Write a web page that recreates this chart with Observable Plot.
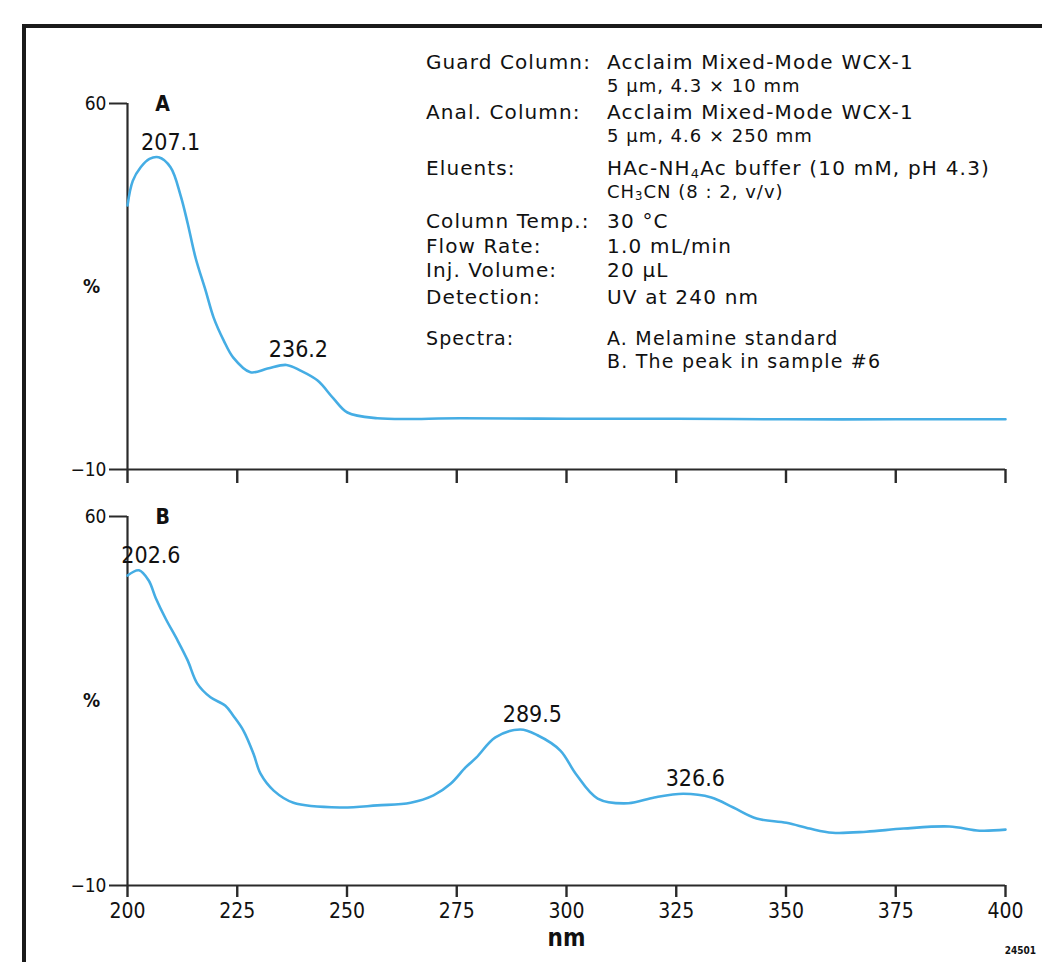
<!DOCTYPE html>
<html>
<head>
<meta charset="utf-8">
<script src="https://cdn.jsdelivr.net/npm/d3@7"></script>
<script src="https://cdn.jsdelivr.net/npm/@observablehq/plot@0.6"></script>
<style>
  html, body { margin: 0; padding: 0; background: #fff; }
  #page { position: relative; width: 1042px; height: 962px; overflow: hidden; background: #fff;
          font-family: "DejaVu Sans", "Liberation Sans", sans-serif; color: #111; }
  #frame { position: absolute; left: 22px; top: 24px; width: 1100px; height: 1000px;
           border-left: 4px solid #1a1a1a; border-top: 4px solid #1a1a1a; }
  .plot { position: absolute; left: 0; }
  .info { position: absolute; white-space: nowrap; line-height: 24px; height: 24px; }
  .info sub { font-size: 65%; line-height: 0; vertical-align: -0.2em; }
  .lab { left: 426px; font-size: 20px; letter-spacing: 1.1px; }
  .val { left: 607px; font-size: 20px; letter-spacing: 1.2px; }
  .sub { left: 607px; font-size: 18px; letter-spacing: 1px; }
  .sp  { font-size: 19px; }
  #code { position: absolute; right: 6px; top: 945px; font-size: 10px; font-weight: bold; line-height: 12px;
          font-family: "DejaVu Sans Condensed", "DejaVu Sans", sans-serif; font-stretch: condensed; }
</style>
</head>
<body>
<div id="page">
  <div id="frame"></div>
  <div id="plotA" class="plot" style="top:0px"></div>
  <div id="plotB" class="plot" style="top:484px"></div>
  <div id="info"></div>
  <div id="code">24501</div>
</div>
<script>
// ---- data ----
const xTicks = [200, 225, 250, 275, 300, 325, 350, 375, 400];
const yTicks = [-10, 60];

const nmA  = [200, 201.2, 203.0, 205.0, 207.1, 209.8, 212.1, 213.7, 215.5, 217.8, 219.6, 221.9, 224.1, 228.0, 231.9, 236.2, 239.4, 243.3, 246.9, 250.1, 256.9, 275.9, 300, 325, 350, 375, 400];
const absA = [40.5, 45.2, 47.8, 49.4, 49.7, 47.8, 42.4, 37.1, 30.5, 24.2, 19.1, 14.7, 11.4, 8.6, 9.3, 10.0, 8.9, 7.0, 3.6, 0.9, -0.2, -0.2, -0.3, -0.3, -0.4, -0.4, -0.4];

const nmB  = [200, 202.6, 204.8, 206.4, 208.7, 211.4, 213.7, 215.9, 218.9, 222.3, 224.1, 226.4, 228.7, 230.3, 233.3, 237.8, 248.5, 256.9, 264.5, 269.7, 273.6, 277.0, 279.5, 283.8, 289.5, 293.4, 298.6, 302.1, 307.1, 314.1, 320.0, 326.6, 333.0, 338.0, 343.3, 350.1, 355.4, 360.6, 368.3, 376.8, 387.2, 394.1, 400];
const absB = [48.8, 49.8, 47.9, 44.6, 40.6, 36.5, 32.7, 28.3, 25.7, 24.1, 22.2, 19.4, 15.0, 11.2, 8.0, 5.7, 4.8, 5.2, 5.7, 7.1, 9.3, 12.4, 14.3, 18.1, 19.6, 18.5, 15.6, 11.2, 6.5, 5.6, 6.7, 7.4, 6.7, 4.8, 2.7, 1.9, 0.8, 0.0, 0.2, 0.8, 1.2, 0.4, 0.6];

const peakNmA  = [207.1, 236.2];
const peakValA = [49.7, 10.0];
const peakNmB  = [202.6, 289.5, 326.6];
const peakValB = [49.8, 19.6, 7.4];

const panelNames = ["A", "B"];
const yUnit = "%";
const xUnit = "nm";

const infoLabels = ["Guard Column:", "Anal. Column:", "Eluents:", "Column Temp.:", "Flow Rate:", "Inj. Volume:", "Detection:", "Spectra:"];
const infoValues = [
  ["Acclaim Mixed-Mode WCX-1", "5 µm, 4.3 × 10 mm"],
  ["Acclaim Mixed-Mode WCX-1", "5 µm, 4.6 × 250 mm"],
  ["HAc-NH<sub>4</sub>Ac buffer (10 mM, pH 4.3)", "CH<sub>3</sub>CN (8 : 2, v/v)"],
  ["30 °C"],
  ["1.0 mL/min"],
  ["20 µL"],
  ["UV at 240 nm"],
  ["A. Melamine standard", "B. The peak in sample #6"]
];

// ---- info block ----
const rowCenters = [[62, 86], [112, 136], [168, 192], [221], [246], [270], [297], [338, 361]];
const info = document.getElementById("info");
infoLabels.forEach((lab, i) => {
  const l = document.createElement("div");
  l.className = "info lab" + (i === 7 ? " sp" : "");
  l.style.top = (rowCenters[i][0] - 12) + "px"; l.textContent = lab;
  info.appendChild(l);
  infoValues[i].forEach((v, j) => {
    const d = document.createElement("div");
    const small = j > 0 && i < 3;
    d.className = "info " + (small ? "sub" : "val") + (i === 7 ? " sp" : "");
    d.style.top = (rowCenters[i][j] - 12) + "px";
    d.innerHTML = v;
    info.appendChild(d);
  });
});

// ---- plots ----
const lineColor = "#45ade4";
const axisColor = "#2a2a2a";
const font = '"DejaVu Sans Condensed", "DejaVu Sans", "Liberation Sans", sans-serif';

function panel(nm, vals, pNm, pVal, name, opts) {
  const data = nm.map((x, i) => ({x, y: vals[i]}));
  const peaks = pNm.map((x, i) => ({x, y: pVal[i], t: x.toFixed(1)}));
  const marks = [
    Plot.ruleX([200], {y1: -10, y2: 60, stroke: axisColor, strokeWidth: 2.2}),
    Plot.ruleY([-10], {x1: 200, x2: 400, stroke: axisColor, strokeWidth: 2.2}),
    Plot.axisY({ticks: yTicks, tickSize: 18, tickPadding: 3, stroke: axisColor, strokeWidth: 2, fontSize: 19, label: null}),
    Plot.axisX({ticks: xTicks, tickSize: opts.bottom ? 12 : 14, tickPadding: 6, stroke: axisColor, strokeWidth: 2.4,
                fontSize: 21, label: null, tickFormat: opts.bottom ? (d => String(d)) : (() => "")}),
    Plot.text([yUnit], {x: 200, y: 25, text: d => d, dx: -36, fontSize: 19, fontWeight: "bold"}),
    Plot.text([name], {x: 208, y: 60, text: d => d, fontSize: 21, fontWeight: "bold", dy: 1}),
    Plot.line(data, {x: "x", y: "y", stroke: lineColor, strokeWidth: 2.6, curve: "catmull-rom"}),
    Plot.text(peaks, {x: "x", y: "y", text: "t", dy: -15, dx: 12, fontSize: 23})
  ];
  if (opts.bottom) {
    marks.push(Plot.text([xUnit], {x: 300, frameAnchor: "bottom", text: d => d, dy: 60, fontSize: 24, fontWeight: "bold"}));
  }
  return Plot.plot({
    width: 1042,
    height: opts.height,
    marginLeft: 127,
    marginRight: 37,
    marginTop: opts.top,
    marginBottom: opts.bottomMargin,
    x: {domain: [200, 400]},
    y: {domain: [-10, 60]},
    style: {fontFamily: font, color: "#111", background: "transparent", overflow: "visible"},
    marks
  });
}

document.getElementById("plotA").appendChild(
  panel(nmA, absA, peakNmA, peakValA, panelNames[0], {height: 484, top: 103, bottomMargin: 15, bottom: false}));
document.getElementById("plotB").appendChild(
  panel(nmB, absB, peakNmB, peakValB, panelNames[1], {height: 478, top: 32, bottomMargin: 77, bottom: true}));
</script>
</body>
</html>
